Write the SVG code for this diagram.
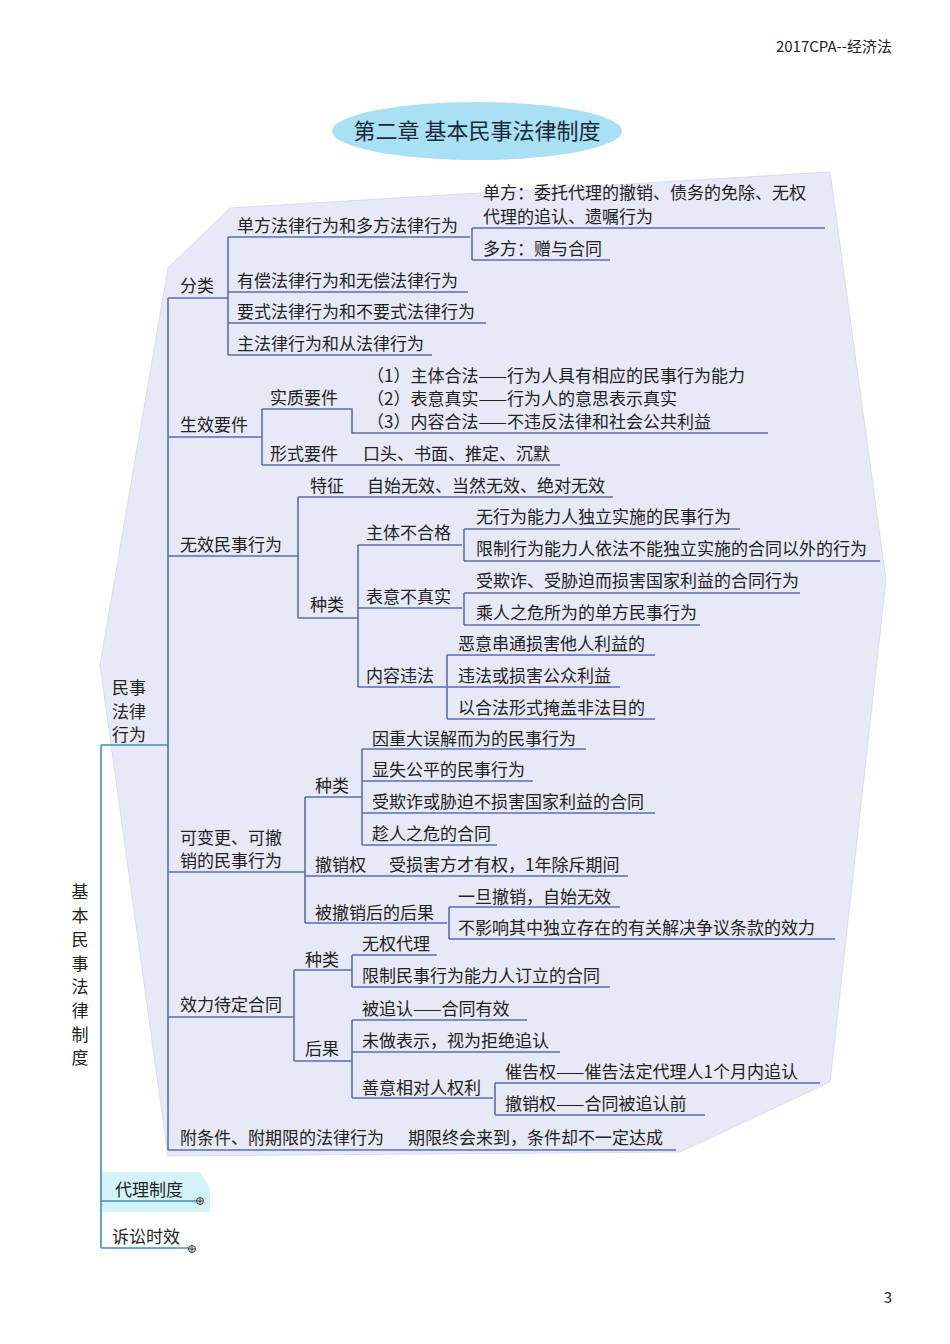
<svg xmlns="http://www.w3.org/2000/svg" width="950" height="1344" viewBox="0 0 950 1344">
<style>
text{font-family:"Noto Sans CJK SC","Noto Sans",sans-serif;font-size:17px;fill:#222}
.l{fill:none;stroke:#5b6db5;stroke-width:1.6}
.r{fill:none;stroke:#3b8fc2;stroke-width:1.6}
.pl{fill:#fff;stroke:#333;stroke-width:1}
</style>
<rect width="950" height="1344" fill="#fff"/>
<text x="892" y="52" text-anchor="end" style="font-size:15px">2017CPA--经济法</text>
<text x="892" y="1303" text-anchor="end" style="font-size:15px">3</text>
<g id="title"><ellipse cx="477" cy="131" rx="145" ry="29" fill="#a9e0f4"/><text x="477" y="139" text-anchor="middle" style="font-size:22px;fill:#1a2a3a">第二章 基本民事法律制度</text></g>
<polygon points="230,208 830,172 886,580 830,1082 680,1152 168,1156 100,665 168,268" fill="#e7e9f7" stroke="#d8dcf0"/>
<polygon points="102,1172 200,1172 210,1188 210,1212 102,1212" fill="#d4f3f7"/>
<g id="connectors">
<path class="r" d="M101,745V1248M101,745H168M101,1201H200M101,1248H192"/>
<path class="l" d="M168,298V1150M168,298H228M168,437H262M168,556H298M168,872H305M168,1017H294M168,1150H676"/>
<path class="l" d="M228,237V355M228,237H470M228,292H468M228,323H486M228,355H432M472,228V260M472,228H825M472,260H610"/>
<path class="l" d="M262,409V465M262,409H352V433H768M262,465H560"/>
<path class="l" d="M298,497V618M298,497H613M298,618H358M358,545V687M358,545H462M358,608H462M358,687H446M464,529V561M464,529H740M464,561H880M464,593V625M464,593H800M464,625H700M447,655V719M447,655H655M447,687H620M447,719H655"/>
<path class="l" d="M305,797V923M305,797H362M305,876H628M305,923H447M362,749V845M362,749H586M362,781H533M362,813H655M362,845H497M449,907V939M449,907H620M449,939H835"/>
<path class="l" d="M294,970V1061M294,970H352M294,1061H352M352,955V987M352,955H437M352,987H610M352,1020V1098M352,1020H527M352,1052H560M352,1098H493M495,1083V1115M495,1083H820M495,1115H705"/>
</g>
<g id="root"><text x="80" y="898" text-anchor="middle">基</text><text x="80" y="922" text-anchor="middle">本</text><text x="80" y="946" text-anchor="middle">民</text><text x="80" y="970" text-anchor="middle">事</text><text x="80" y="993" text-anchor="middle">法</text><text x="80" y="1017" text-anchor="middle">律</text><text x="80" y="1041" text-anchor="middle">制</text><text x="80" y="1064" text-anchor="middle">度</text></g>
<g id="n-msflxw"><text x="112" y="694">民事</text><text x="112" y="718">法律</text><text x="112" y="741">行为</text></g>
<g id="n-dlzd"><text x="115" y="1196">代理制度</text><circle class="pl" cx="200" cy="1201" r="3.5"/><path d="M197,1201h6M200,1198v6" stroke="#333"/></g>
<g id="n-sssx"><text x="112" y="1243">诉讼时效</text><circle class="pl" cx="192" cy="1249" r="3.5"/><path d="M189,1249h6M192,1246v6" stroke="#333"/></g>
<g id="n-fl"><text x="180" y="292">分类</text>
<text x="237" y="232">单方法律行为和多方法律行为</text>
<text x="483" y="199">单方：委托代理的撤销、债务的免除、无权</text><text x="483" y="223">代理的追认、遗嘱行为</text>
<text x="483" y="255">多方：赠与合同</text>
<text x="237" y="287">有偿法律行为和无偿法律行为</text>
<text x="237" y="318">要式法律行为和不要式法律行为</text>
<text x="237" y="350">主法律行为和从法律行为</text></g>
<g id="n-sxyj"><text x="180" y="431">生效要件</text>
<text x="270" y="404">实质要件</text>
<text x="367" y="382">（1）主体合法——行为人具有相应的民事行为能力</text>
<text x="367" y="405">（2）表意真实——行为人的意思表示真实</text>
<text x="367" y="428">（3）内容合法——不违反法律和社会公共利益</text>
<text x="270" y="460">形式要件</text><text x="363" y="460">口头、书面、推定、沉默</text></g>
<g id="n-wx"><text x="180" y="551">无效民事行为</text>
<text x="310" y="492">特征</text><text x="367" y="492">自始无效、当然无效、绝对无效</text>
<text x="310" y="611">种类</text>
<text x="366" y="539">主体不合格</text>
<text x="476" y="523">无行为能力人独立实施的民事行为</text>
<text x="476" y="555">限制行为能力人依法不能独立实施的合同以外的行为</text>
<text x="366" y="603">表意不真实</text>
<text x="476" y="587">受欺诈、受胁迫而损害国家利益的合同行为</text>
<text x="476" y="619">乘人之危所为的单方民事行为</text>
<text x="366" y="682">内容违法</text>
<text x="458" y="650">恶意串通损害他人利益的</text>
<text x="458" y="682">违法或损害公众利益</text>
<text x="458" y="714">以合法形式掩盖非法目的</text></g>
<g id="n-kbg"><text x="180" y="844">可变更、可撤</text><text x="180" y="867">销的民事行为</text>
<text x="315" y="792">种类</text>
<text x="372" y="745">因重大误解而为的民事行为</text>
<text x="372" y="776">显失公平的民事行为</text>
<text x="372" y="808">受欺诈或胁迫不损害国家利益的合同</text>
<text x="372" y="840">趁人之危的合同</text>
<text x="315" y="871">撤销权</text><text x="389" y="871">受损害方才有权，1年除斥期间</text>
<text x="315" y="919">被撤销后的后果</text>
<text x="458" y="903">一旦撤销，自始无效</text>
<text x="458" y="934">不影响其中独立存在的有关解决争议条款的效力</text></g>
<g id="n-xldd"><text x="180" y="1011">效力待定合同</text>
<text x="305" y="966">种类</text>
<text x="362" y="950">无权代理</text>
<text x="362" y="982">限制民事行为能力人订立的合同</text>
<text x="305" y="1055">后果</text>
<text x="362" y="1015">被追认——合同有效</text>
<text x="362" y="1047">未做表示，视为拒绝追认</text>
<text x="362" y="1094">善意相对人权利</text>
<text x="505" y="1078">催告权——催告法定代理人1个月内追认</text>
<text x="505" y="1110">撤销权——合同被追认前</text></g>
<g id="n-ftj"><text x="180" y="1144">附条件、附期限的法律行为</text><text x="408" y="1144">期限终会来到，条件却不一定达成</text></g>
</svg>
